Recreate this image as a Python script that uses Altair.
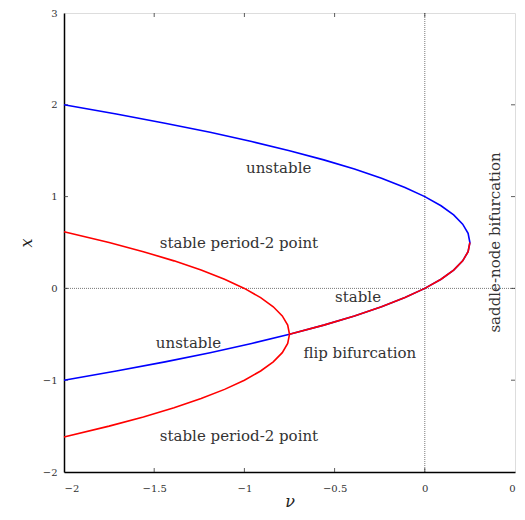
import altair as alt
import pandas as pd

# Fixed-point branch (full parabola), parametrised by x
blue_x = [-1.0, -0.9, -0.8, -0.7, -0.6, -0.5, -0.4, -0.3, -0.2, -0.1, 0.0, 0.1, 0.2, 0.3, 0.4, 0.5,
          0.6, 0.7, 0.8, 0.9, 1.0, 1.1, 1.2, 1.3, 1.4, 1.5, 1.6, 1.7, 1.8, 1.9, 2.0]
blue_nu = [-2.0, -1.71, -1.44, -1.19, -0.96, -0.75, -0.56, -0.39, -0.24, -0.11, 0.0, 0.09, 0.16, 0.21, 0.24, 0.25,
           0.24, 0.21, 0.16, 0.09, 0.0, -0.11, -0.24, -0.39, -0.56, -0.75, -0.96, -1.19, -1.44, -1.71, -2.0]

# Period-2 branch
p2_x = [-1.618, -1.5, -1.4, -1.3, -1.2, -1.1, -1.0, -0.9, -0.8, -0.7, -0.6, -0.5,
        -0.4, -0.3, -0.2, -0.1, 0.0, 0.1, 0.2, 0.3, 0.4, 0.5, 0.618]
p2_nu = [-2.0, -1.75, -1.56, -1.39, -1.24, -1.11, -1.0, -0.91, -0.84, -0.79, -0.76, -0.75,
         -0.76, -0.79, -0.84, -0.91, -1.0, -1.11, -1.24, -1.39, -1.56, -1.75, -2.0]

# Stable fixed-point segment
st_x = [-0.5, -0.4, -0.3, -0.2, -0.1, 0.0, 0.1, 0.2, 0.3, 0.4, 0.5]
st_nu = [-0.75, -0.56, -0.39, -0.24, -0.11, 0.0, 0.09, 0.16, 0.21, 0.24, 0.25]

x_ticks = [-2, -1.5, -1, -0.5, 0, 0.5]
y_ticks = [-2, -1, 0, 1, 2, 3]

labels = ["unstable", "stable period-2 point", "stable", "unstable", "flip bifurcation", "stable period-2 point"]
label_nu = [-0.81, -1.03, -0.37, -1.31, -0.36, -1.03]
label_x = [1.31, 0.50, -0.09, -0.60, -0.70, -1.61]

FONT = "DejaVu Serif"
W, H = 451, 459

blue_df = pd.DataFrame({"nu": blue_nu, "x": blue_x, "i": range(len(blue_x)), "s": "fixed"})
p2_df = pd.DataFrame({"nu": p2_nu, "x": p2_x, "i": range(len(p2_x)), "s": "p2"})
st_df = pd.DataFrame({"nu": st_nu, "x": st_x, "i": range(len(st_x)), "s": "st"})
red_df = pd.concat([p2_df, st_df])

xs = alt.Scale(domain=[-2, 0.5], nice=False, zero=False)
ys = alt.Scale(domain=[-2, 3], nice=False, zero=False)

xax = alt.Axis(values=x_ticks, title="ν", titleFont=FONT, titleFontSize=16, titleFontStyle="italic",
               titleFontWeight="normal", titleColor="#222", titlePadding=0,
               labelFont=FONT, labelFontSize=10, labelColor="#333", labelPadding=11, tickSize=0,
               format="~g", labelExpr="datum.value == 0.5 ? '0' : datum.label",
               domainColor="black", domainWidth=1.5, grid=False)
yax = alt.Axis(values=y_ticks, title="x", titleFont=FONT, titleFontSize=16, titleFontStyle="italic",
               titleFontWeight="normal", titleColor="#222", titlePadding=8,
               labelFont=FONT, labelFontSize=10, labelColor="#333", labelPadding=7, tickSize=0,
               format="~g", domainColor="black", domainWidth=1.5, grid=False)

base_x = alt.X("nu:Q", scale=xs, axis=xax)
base_y = alt.Y("x:Q", scale=ys, axis=yax)

zero_v = alt.Chart(pd.DataFrame({"v": [0]})).mark_rule(color="#555", strokeWidth=0.8, strokeDash=[1, 1]).encode(
    x=alt.X("v:Q", scale=xs))
zero_h = alt.Chart(pd.DataFrame({"v": [0]})).mark_rule(color="#555", strokeWidth=0.8, strokeDash=[1, 1]).encode(
    y=alt.Y("v:Q", scale=ys))

xt_df = pd.DataFrame({"t": x_ticks[1:-1]})
yt_df = pd.DataFrame({"t": y_ticks[1:-1]})
xt_b = alt.Chart(xt_df).mark_rule(color="#333", strokeWidth=0.8).encode(
    x=alt.X("t:Q", scale=xs), y=alt.value(H), y2=alt.value(H - 4))
xt_t = alt.Chart(xt_df).mark_rule(color="#333", strokeWidth=0.8).encode(
    x=alt.X("t:Q", scale=xs), y=alt.value(0), y2=alt.value(4))
yt_l = alt.Chart(yt_df).mark_rule(color="#333", strokeWidth=0.8).encode(
    y=alt.Y("t:Q", scale=ys), x=alt.value(0), x2=alt.value(4))
yt_r = alt.Chart(yt_df).mark_rule(color="#333", strokeWidth=0.8).encode(
    y=alt.Y("t:Q", scale=ys), x=alt.value(W), x2=alt.value(W - 4))

blue = alt.Chart(blue_df).mark_line(color="#0000ff", strokeWidth=1.6).encode(
    x=base_x, y=base_y, order="i:Q")
red = alt.Chart(red_df).mark_line(color="#ff0000", strokeWidth=1.6).encode(
    x=alt.X("nu:Q", scale=xs), y=alt.Y("x:Q", scale=ys), detail="s:N", order="i:Q")

ann = alt.Chart(pd.DataFrame({"t": labels, "nu": label_nu, "x": label_x})).mark_text(
    font=FONT, fontSize=15, color="#333", align="center", baseline="middle").encode(
    x=alt.X("nu:Q", scale=xs), y=alt.Y("x:Q", scale=ys), text="t:N")

sn = alt.Chart(pd.DataFrame({"t": ["saddle-node bifurcation"], "nu": [0.39], "x": [0.5]})).mark_text(
    font=FONT, fontSize=15, color="#333", align="center", baseline="middle", angle=270).encode(
    x=alt.X("nu:Q", scale=xs), y=alt.Y("x:Q", scale=ys), text="t:N")

chart = alt.layer(zero_v, zero_h, xt_b, xt_t, yt_l, yt_r, blue, red, ann, sn).properties(
    width=W, height=H,
    autosize=alt.AutoSizeParams(type="none"),
    padding={"left": 56, "top": 5, "right": 2, "bottom": 40},
).configure_view(stroke="black", strokeWidth=1.5).configure(background="white")

chart.save("out.html", embed_options={"renderer": "svg", "actions": False})
